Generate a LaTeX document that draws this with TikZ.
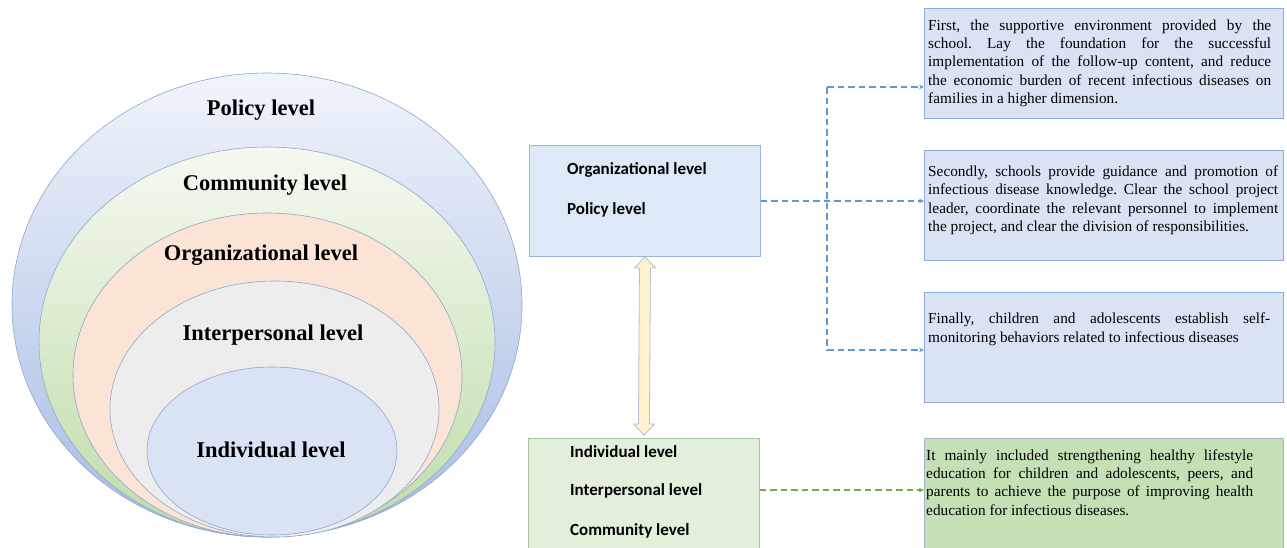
\documentclass[tikz,border=0pt]{standalone}
\usepackage{fontspec}
\setmainfont{Liberation Serif}
\newfontfamily\labelsans{Carlito}
\usetikzlibrary{arrows.meta,calc}
\frenchspacing

\definecolor{ringline}{HTML}{8EA6CF}
\definecolor{policytop}{HTML}{F0F4FB}
\definecolor{policybot}{HTML}{A6BCE3}
\definecolor{commtop}{HTML}{F5F9F1}
\definecolor{commbot}{HTML}{BFDCA8}
\definecolor{orgfill}{HTML}{FBE4D6}
\definecolor{interfill}{HTML}{EDEDED}
\definecolor{indivfill}{HTML}{DAE3F3}
\definecolor{boxblue}{HTML}{DDE9F6}
\definecolor{boxblueline}{HTML}{9CB6DB}
\definecolor{boxgreen}{HTML}{E2EFDA}
\definecolor{boxgreenline}{HTML}{A9C6A0}
\definecolor{noteblue}{HTML}{DAE3F3}
\definecolor{noteblueline}{HTML}{8FAADC}
\definecolor{notegreen}{HTML}{C5E0B4}
\definecolor{notegreenline}{HTML}{A3B5C6}
\definecolor{linkblue}{HTML}{5B9BD5}
\definecolor{linkgreen}{HTML}{70AD47}
\definecolor{arrowfill}{HTML}{FFF2CC}
\definecolor{arrowline}{HTML}{B6C0D2}

\tikzset{
  ring/.style={draw=ringline, line width=0.6pt},
  ringlabel/.style={font=\bfseries\fontsize{22.5}{26}\selectfont, anchor=base, inner sep=0pt},
  levelbox/.style={rectangle, inner sep=0pt, anchor=north west, line width=0.9pt, minimum width=231pt},
  leveltext/.style={font=\labelsans\bfseries\fontsize{17}{20}\selectfont, anchor=base west, inner sep=0pt},
  notebox/.style={rectangle, inner sep=0pt, anchor=north west, minimum width=359pt, line width=0.9pt},
  notetext/.style={font=\fontsize{15.3}{18.4}\selectfont, align=justify, anchor=base west, inner sep=0pt},
  linkline/.style={line width=1.1pt, dash pattern=on 6.5pt off 4pt},
  linkhead/.style={-{Stealth[length=5pt,width=4.5pt]}},
}

\begin{document}
\begin{tikzpicture}[x=1pt,y=-1pt]
  \clip (0,0) rectangle (1287,547);
  \fill[white] (0,0) rectangle (1287,547);

  % nested levels, all touching at the bottom
  \draw[ring, top color=policytop, bottom color=policybot] (267,305) ellipse [x radius=255pt, y radius=232pt];
  \draw[ring, top color=commtop, bottom color=commbot] (267,342) ellipse [x radius=228pt, y radius=195pt];
  \draw[ring, fill=orgfill] (267.5,375) ellipse [x radius=194.5pt, y radius=162pt];
  \draw[ring, fill=interfill] (274.5,409) ellipse [x radius=164.5pt, y radius=128pt];
  \draw[ring, fill=indivfill] (272,451) ellipse [x radius=125pt, y radius=84pt];

  \node[ringlabel] (lpolicy) at (261,115.5) {Policy level};
  \node[ringlabel] (lcomm) at (265,190.5) {Community level};
  \node[ringlabel] (lorg) at (261,260.5) {Organizational level};
  \node[ringlabel] (linter) at (273,340.5) {Interpersonal level};
  \node[ringlabel] (lindiv) at (271,457) {Individual level};

  % grouped levels
  \node[levelbox, fill=boxblue, draw=boxblueline, minimum height=111pt] (orgbox) at (529,145) {};
  \node[leveltext] (torg) at (567,174) {Organizational level};
  \node[leveltext] (tpol) at (567,214) {Policy level};

  \node[levelbox, fill=boxgreen, draw=boxgreenline, minimum height=130pt] (indbox) at (528,438) {};
  \node[leveltext] (tind) at (570,457) {Individual level};
  \node[leveltext] (tint) at (570,495) {Interpersonal level};
  \node[leveltext] (tcom) at (570,535) {Community level};

  % two-way arrow between the groups
  \coordinate (atop) at (orgbox.south);
  \coordinate (abot) at ($(indbox.north)+(0,-3)$);
  \draw[fill=arrowfill, draw=arrowline, line width=0.8pt, line join=miter]
    (atop) -- ($(atop)+(10.5,11)$) -- ($(atop)+(5.5,11)$)
    -- ($(abot)+(5.5,-11)$) -- ($(abot)+(10.5,-11)$) -- (abot)
    -- ($(abot)+(-10.5,-11)$) -- ($(abot)+(-5.5,-11)$)
    -- ($(atop)+(-5.5,11)$) -- ($(atop)+(-10.5,11)$) -- cycle;

  % notes
  \node[notebox, fill=noteblue, draw=noteblueline, minimum height=110pt] (note1) at (924,8) {};
  \node[notetext, text width=343pt] (text1) at (928,30) {First, the supportive environment provided by the\linebreak
    school. Lay the foundation for the successful\linebreak
    implementation of the follow-up content, and reduce\linebreak
    the economic burden of recent infectious diseases on\linebreak
    families in a higher dimension.};

  \node[notebox, fill=noteblue, draw=noteblueline, minimum height=110pt] (note2) at (924,150) {};
  \node[notetext, text width=350pt] (text2) at (928,176.5) {Secondly, schools provide guidance and promotion of\linebreak
    infectious disease knowledge. Clear the school project\linebreak
    leader, coordinate the relevant personnel to implement\linebreak
    the project, and clear the division of responsibilities.};

  \node[notebox, fill=noteblue, draw=noteblueline, minimum height=110pt] (note3) at (924,292) {};
  \node[notetext, text width=342pt] (text3) at (928,323.7) {Finally, children and adolescents establish self-\linebreak
    monitoring behaviors related to infectious diseases};

  \node[notebox, fill=notegreen, draw=notegreenline, minimum height=130pt] (note4) at (924,438) {};
  \node[notetext, text width=327pt] (text4) at (926,460) {It mainly included strengthening healthy lifestyle\linebreak
    education for children and adolescents, peers, and\linebreak
    parents to achieve the purpose of improving health\linebreak
    education for infectious diseases.};

  % dashed links
  \coordinate (tj) at (827,87);
  \coordinate (bj) at (827,350);
  \coordinate (gy) at (0,490);
  \draw[linkline, draw=linkblue] (tj) -- (bj);
  \draw[linkline, linkhead, draw=linkblue] (orgbox.east) -- (orgbox.east -| note2.west);
  \draw[linkline, linkhead, draw=linkblue] (tj) -- (tj -| note1.west);
  \draw[linkline, linkhead, draw=linkblue] (bj) -- (bj -| note3.west);
  \draw[linkline, linkhead, draw=linkgreen] (indbox.east |- gy) -- (gy -| note4.west);
\end{tikzpicture}
\end{document}
